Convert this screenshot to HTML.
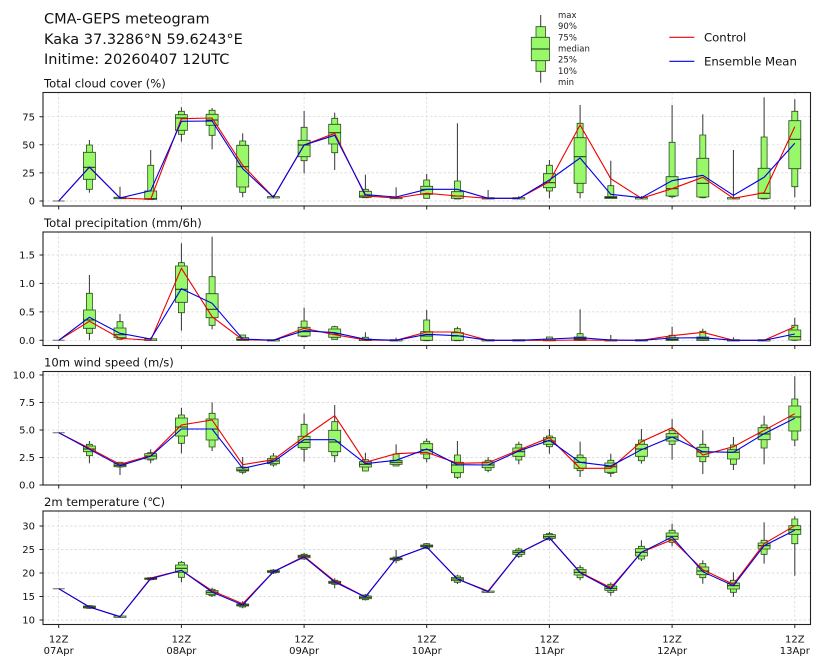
<!DOCTYPE html>
<html><head><meta charset="utf-8"><style>
html,body{margin:0;padding:0;background:#fff}
svg{display:block}
text{font-family:"DejaVu Sans","Liberation Sans",sans-serif;fill:#111}
.w{stroke:#333;stroke-width:1;fill:none}
.b{fill:#98f86a;stroke:#2e4a22;stroke-width:0.8}
.m{stroke:#1e2e14;stroke-width:1;fill:none}
.z{stroke:#888;stroke-width:1.3;fill:none}
.g{stroke:#d4d4d4;stroke-width:0.7;stroke-dasharray:2.5 2;fill:none}
.f{fill:none;stroke:#222;stroke-width:1.1}
.t{stroke:#222;stroke-width:1;fill:none}
.c{stroke:#f00000;stroke-width:1.1;fill:none}
.e{stroke:#0000e8;stroke-width:1.1;fill:none}
.yl{font-size:10px;text-anchor:end}
.xl{font-size:10px;text-anchor:middle}
.pt{font-size:11.6px}
.lg{font-size:8.5px;fill:#222}
</style></head><body>
<svg width="822" height="667" viewBox="0 0 822 667" xmlns="http://www.w3.org/2000/svg">
<rect width="822" height="667" fill="#fff"/>
<!-- Header -->
<text x="44" y="23.3" style="font-size:14.5px">CMA-GEPS meteogram</text>
<text x="44" y="43.8" style="font-size:14.5px">Kaka 37.3286°N 59.6243°E</text>
<text x="44" y="64.2" style="font-size:14.5px">Initime: 20260407 12UTC</text>
<!-- Box legend -->
<path class="w" d="M540.7 15 V82.7"/>
<path class="b" d="M536 26.7 V71.3 H545.5 V26.7Z"/>
<path class="b" d="M531.3 37.3 V60.7 H549.5 V37.3Z"/>
<path class="m" d="M531.3 49 H549.5"/>
<text class="lg" x="558" y="18">max</text>
<text class="lg" x="558" y="29.2">90%</text>
<text class="lg" x="558" y="40.3">75%</text>
<text class="lg" x="558" y="51.5">median</text>
<text class="lg" x="558" y="62.7">25%</text>
<text class="lg" x="558" y="73.8">10%</text>
<text class="lg" x="558" y="85">min</text>
<path class="c" d="M669.3 37.3 H694.3"/>
<text x="704" y="41.5" style="font-size:11.7px">Control</text>
<path class="e" d="M669.3 61.3 H694.3"/>
<text x="704" y="65.5" style="font-size:11.7px">Ensemble Mean</text>

<!-- ================= Panel 1 ================= -->
<text class="pt" x="44" y="87.3">Total cloud cover (%)</text>
<g>
<path class="g" d="M43 201 H810.5 M43 172.9 H810.5 M43 144.8 H810.5 M43 116.7 H810.5"/>
<path class="g" d="M58.7 92.5 V206 M181.4 92.5 V206 M304.1 92.5 V206 M426.7 92.5 V206 M549.4 92.5 V206 M672.1 92.5 V206 M794.8 92.5 V206"/>
<path class="t" d="M39.5 201 H43 M39.5 172.9 H43 M39.5 144.8 H43 M39.5 116.7 H43"/>
<path class="t" d="M58.7 206 v3.5 M181.4 206 v3.5 M304.1 206 v3.5 M426.7 206 v3.5 M549.4 206 v3.5 M672.1 206 v3.5 M794.8 206 v3.5"/>
<text class="yl" x="35" y="204.6">0</text>
<text class="yl" x="35" y="176.5">25</text>
<text class="yl" x="35" y="148.4">50</text>
<text class="yl" x="35" y="120.3">75</text>
</g>
<path class="z" d="M52.7 201 H64.7"/>
<g transform="translate(89.4)"><path class="w" d="M0 140 V192.7"/><path class="b" d="M-3 145 V189.3 H3 V145Z"/><path class="b" d="M-6 152.3 V179.3 H6 V152.3Z"/><path class="m" d="M-6 167.3 H6"/></g>
<g transform="translate(120)"><path class="w" d="M0 186.7 V198.5"/><path class="b" d="M-6 197.3 V198.7 H6 V197.3Z"/></g>
<g transform="translate(150.7)"><path class="w" d="M0 150 V199.5"/><path class="b" d="M-3 165.3 V199.5 H3 V165.3Z"/><path class="b" d="M-6 191 V199.3 H6 V191Z"/><path class="m" d="M-6 198.7 H6"/></g>
<g transform="translate(181.4)"><path class="w" d="M0 107.3 V141.7"/><path class="b" d="M-3 111.3 V134.3 H3 V111.3Z"/><path class="b" d="M-6 114.7 V130.3 H6 V114.7Z"/><path class="m" d="M-6 118 H6"/></g>
<g transform="translate(212.1)"><path class="w" d="M0 108 V149.3"/><path class="b" d="M-3 110.3 V135.3 H3 V110.3Z"/><path class="b" d="M-6 114.3 V125.3 H6 V114.3Z"/><path class="m" d="M-6 120 H6"/></g>
<g transform="translate(242.7)"><path class="w" d="M0 133.3 V197.3"/><path class="b" d="M-3 141 V192.3 H3 V141Z"/><path class="b" d="M-6 145.3 V187 H6 V145.3Z"/><path class="m" d="M-6 166.7 H6"/></g>
<g transform="translate(273.4)"><path class="w" d="M0 195 V198"/><path class="b" d="M-6 196.6 V198 H6 V196.6Z"/></g>
<g transform="translate(304.1)"><path class="w" d="M0 111 V173.3"/><path class="b" d="M-3 127.3 V160.7 H3 V127.3Z"/><path class="b" d="M-6 140.3 V156.7 H6 V140.3Z"/><path class="m" d="M-6 145 H6"/></g>
<g transform="translate(334.7)"><path class="w" d="M0 112.7 V170"/><path class="b" d="M-3 118.3 V152.7 H3 V118.3Z"/><path class="b" d="M-6 124.3 V144 H6 V124.3Z"/><path class="m" d="M-6 132.7 H6"/></g>
<g transform="translate(365.4)"><path class="w" d="M0 174.7 V198"/><path class="b" d="M-3 189.3 V197.7 H3 V189.3Z"/><path class="b" d="M-6 191.3 V197.3 H6 V191.3Z"/><path class="m" d="M-6 196 H6"/></g>
<g transform="translate(396.1)"><path class="w" d="M0 187.3 V198.5"/><path class="b" d="M-6 197.3 V198.7 H6 V197.3Z"/></g>
<g transform="translate(426.7)"><path class="w" d="M0 174 V198.5"/><path class="b" d="M-3 180 V198.3 H3 V180Z"/><path class="b" d="M-6 186.3 V194.3 H6 V186.3Z"/><path class="m" d="M-6 189.3 H6"/></g>
<g transform="translate(457.4)"><path class="w" d="M0 123.3 V199"/><path class="b" d="M-3 181 V199 H3 V181Z"/><path class="b" d="M-6 191.7 V198.3 H6 V191.7Z"/><path class="m" d="M-6 196 H6"/></g>
<g transform="translate(488.1)"><path class="w" d="M0 190 V198.5"/><path class="b" d="M-6 197.6 V199 H6 V197.6Z"/></g>
<g transform="translate(518.8)"><path class="w" d="M0 196 V198.5"/><path class="b" d="M-6 197.6 V199 H6 V197.6Z"/></g>
<g transform="translate(549.4)"><path class="w" d="M0 160 V198.3"/><path class="b" d="M-3 165.3 V191 H3 V165.3Z"/><path class="b" d="M-6 173.7 V187.7 H6 V173.7Z"/><path class="m" d="M-6 182.7 H6"/></g>
<g transform="translate(580.1)"><path class="w" d="M0 105 V198.3"/><path class="b" d="M-3 123.3 V192.7 H3 V123.3Z"/><path class="b" d="M-6 137.7 V183.3 H6 V137.7Z"/><path class="m" d="M-6 156.7 H6"/></g>
<g transform="translate(610.8)"><path class="w" d="M0 160.7 V198.5"/><path class="b" d="M-3 185.7 V196.7 H3 V185.7Z"/><path class="b" d="M-6 196.5 V198.5 H6 V196.5Z"/><path class="m" d="M-6 197.5 H6"/></g>
<g transform="translate(641.4)"><path class="w" d="M0 196 V198.5"/><path class="b" d="M-6 197.6 V199 H6 V197.6Z"/></g>
<g transform="translate(672.1)"><path class="w" d="M0 105 V198.3"/><path class="b" d="M-3 142.3 V196.7 H3 V142.3Z"/><path class="b" d="M-6 176.7 V196 H6 V176.7Z"/><path class="m" d="M-6 188.7 H6"/></g>
<g transform="translate(702.8)"><path class="w" d="M0 114.3 V198.3"/><path class="b" d="M-3 135 V197.7 H3 V135Z"/><path class="b" d="M-6 158.3 V197 H6 V158.3Z"/><path class="m" d="M-6 183.3 H6"/></g>
<g transform="translate(733.4)"><path class="w" d="M0 150 V198.5"/><path class="b" d="M-6 197.6 V199 H6 V197.6Z"/></g>
<g transform="translate(764.1)"><path class="w" d="M0 97.3 V199"/><path class="b" d="M-3 137 V199 H3 V137Z"/><path class="b" d="M-6 168.3 V198.3 H6 V168.3Z"/><path class="m" d="M-6 193.3 H6"/></g>
<g transform="translate(794.8)"><path class="w" d="M0 99.3 V197.3"/><path class="b" d="M-3 111.3 V186.7 H3 V111.3Z"/><path class="b" d="M-6 120.7 V168.7 H6 V120.7Z"/><path class="m" d="M-6 139.3 H6"/></g>
<polyline class="c" points="58.7,201 89.4,167.3 120,198 150.7,199.3 181.4,118.7 212.1,118 242.7,165.3 273.4,197.3 304.1,145 334.7,133.3 365.4,196 396.1,198 426.7,193.3 457.4,196 488.1,198.3 518.8,198.3 549.4,181.7 580.1,125 610.8,178.7 641.4,198.3 672.1,188.7 702.8,177.3 733.4,198.3 764.1,192.7 794.8,126.7"/>
<polyline class="e" points="58.7,201 89.4,167 120,198 150.7,190.7 181.4,121.3 212.1,121 242.7,168.7 273.4,197.3 304.1,145 334.7,135.3 365.4,194.7 396.1,197 426.7,189.3 457.4,189.3 488.1,198.3 518.8,198.3 549.4,180 580.1,158 610.8,194.3 641.4,197.7 672.1,180.7 702.8,175.3 733.4,195.3 764.1,177.3 794.8,143.3"/>
<rect class="f" x="43" y="92.5" width="767.5" height="113.5"/>

<!-- ================= Panel 2 ================= -->
<text class="pt" x="44" y="226.8">Total precipitation (mm/6h)</text>
<g>
<path class="g" d="M43 340.3 H810.5 M43 311.9 H810.5 M43 283.4 H810.5 M43 255 H810.5"/>
<path class="g" d="M58.7 232 V345.5 M181.4 232 V345.5 M304.1 232 V345.5 M426.7 232 V345.5 M549.4 232 V345.5 M672.1 232 V345.5 M794.8 232 V345.5"/>
<path class="t" d="M39.5 340.3 H43 M39.5 311.9 H43 M39.5 283.4 H43 M39.5 255 H43"/>
<path class="t" d="M58.7 345.5 v3.5 M181.4 345.5 v3.5 M304.1 345.5 v3.5 M426.7 345.5 v3.5 M549.4 345.5 v3.5 M672.1 345.5 v3.5 M794.8 345.5 v3.5"/>
<text class="yl" x="35" y="343.9">0.0</text>
<text class="yl" x="35" y="315.5">0.5</text>
<text class="yl" x="35" y="287">1.0</text>
<text class="yl" x="35" y="258.6">1.5</text>
</g>
<path class="z" d="M52.7 340.3 H64.7"/>
<g transform="translate(89.4)"><path class="w" d="M0 275 V340"/><path class="b" d="M-3 293.3 V333.3 H3 V293.3Z"/><path class="b" d="M-6 310 V328.3 H6 V310Z"/><path class="m" d="M-6 320 H6"/></g>
<g transform="translate(120)"><path class="w" d="M0 314 V339.3"/><path class="b" d="M-3 321.7 V339.3 H3 V321.7Z"/><path class="b" d="M-6 328 V337.7 H6 V328Z"/><path class="m" d="M-6 334.7 H6"/></g>
<g transform="translate(150.7)"><path class="w" d="M0 337.5 V340.5"/><path class="b" d="M-6 338.8 V340.5 H6 V338.8Z"/></g>
<g transform="translate(181.4)"><path class="w" d="M0 243.3 V330.7"/><path class="b" d="M-3 262.7 V312.7 H3 V262.7Z"/><path class="b" d="M-6 266 V302.3 H6 V266Z"/><path class="m" d="M-6 289.3 H6"/></g>
<g transform="translate(212.1)"><path class="w" d="M0 236.7 V329.3"/><path class="b" d="M-3 276.7 V325.3 H3 V276.7Z"/><path class="b" d="M-6 293.7 V317.7 H6 V293.7Z"/><path class="m" d="M-6 309.3 H6"/></g>
<g transform="translate(242.7)"><path class="w" d="M0 335 V340.3"/><path class="b" d="M-3 335 V340.3 H3 V335Z"/><path class="b" d="M-6 337.7 V340.5 H6 V337.7Z"/><path class="m" d="M-6 339.5 H6"/></g>
<g transform="translate(273.4)"><path class="b" d="M-6 339.6 V341 H6 V339.6Z"/></g>
<g transform="translate(304.1)"><path class="w" d="M0 307.7 V336.7"/><path class="b" d="M-3 321 V336.7 H3 V321Z"/><path class="b" d="M-6 327.3 V336 H6 V327.3Z"/><path class="m" d="M-6 331.7 H6"/></g>
<g transform="translate(334.7)"><path class="w" d="M0 325.7 V339.3"/><path class="b" d="M-3 326.7 V339.3 H3 V326.7Z"/><path class="b" d="M-6 329 V337.3 H6 V329Z"/><path class="m" d="M-6 334 H6"/></g>
<g transform="translate(365.4)"><path class="w" d="M0 332.3 V340.3"/><path class="b" d="M-3 337.3 V340.3 H3 V337.3Z"/><path class="b" d="M-6 339 V340.6 H6 V339Z"/></g>
<g transform="translate(396.1)"><path class="w" d="M0 337.7 V340.3"/><path class="b" d="M-6 339.6 V341 H6 V339.6Z"/></g>
<g transform="translate(426.7)"><path class="w" d="M0 310 V340.7"/><path class="b" d="M-3 320 V340.7 H3 V320Z"/><path class="b" d="M-6 331.7 V340.3 H6 V331.7Z"/><path class="m" d="M-6 336 H6"/></g>
<g transform="translate(457.4)"><path class="w" d="M0 326.7 V340.7"/><path class="b" d="M-3 328.7 V340.7 H3 V328.7Z"/><path class="b" d="M-6 332.7 V340.3 H6 V332.7Z"/><path class="m" d="M-6 336 H6"/></g>
<g transform="translate(488.1)"><path class="b" d="M-6 339.6 V341 H6 V339.6Z"/></g>
<g transform="translate(518.8)"><path class="b" d="M-6 339.6 V341 H6 V339.6Z"/></g>
<g transform="translate(549.4)"><path class="w" d="M0 337 V340.3"/><path class="b" d="M-3 337 V340.3 H3 V337Z"/><path class="b" d="M-6 339.2 V340.8 H6 V339.2Z"/></g>
<g transform="translate(580.1)"><path class="w" d="M0 309.3 V340.3"/><path class="b" d="M-3 333.7 V340.3 H3 V333.7Z"/><path class="b" d="M-6 337 V340.5 H6 V337Z"/><path class="m" d="M-6 339 H6"/></g>
<g transform="translate(610.8)"><path class="w" d="M0 335 V340.3"/><path class="b" d="M-6 339.6 V341 H6 V339.6Z"/></g>
<g transform="translate(641.4)"><path class="b" d="M-6 339.6 V341 H6 V339.6Z"/></g>
<g transform="translate(672.1)"><path class="w" d="M0 326.7 V340.3"/><path class="b" d="M-3 335.3 V340.3 H3 V335.3Z"/><path class="b" d="M-6 337.7 V340.5 H6 V337.7Z"/><path class="m" d="M-6 339.5 H6"/></g>
<g transform="translate(702.8)"><path class="w" d="M0 328.7 V340.3"/><path class="b" d="M-3 331.3 V340.3 H3 V331.3Z"/><path class="b" d="M-6 337 V340.5 H6 V337Z"/><path class="m" d="M-6 339 H6"/></g>
<g transform="translate(733.4)"><path class="w" d="M0 337.3 V340.3"/><path class="b" d="M-6 339.6 V341 H6 V339.6Z"/></g>
<g transform="translate(764.1)"><path class="b" d="M-6 339.6 V341 H6 V339.6Z"/></g>
<g transform="translate(794.8)"><path class="w" d="M0 317.7 V340.7"/><path class="b" d="M-3 325.3 V340.3 H3 V325.3Z"/><path class="b" d="M-6 330 V340 H6 V330Z"/><path class="m" d="M-6 336.7 H6"/></g>
<polyline class="c" points="58.7,340.3 89.4,321.3 120,338.3 150.7,340.3 181.4,268.3 212.1,316.7 242.7,339.7 273.4,340.3 304.1,328.3 334.7,334.7 365.4,340 396.1,340.3 426.7,332 457.4,332 488.1,340.3 518.8,340.3 549.4,340.3 580.1,340 610.8,340.3 641.4,340.3 672.1,335.7 702.8,332.3 733.4,340.3 764.1,340.3 794.8,326.7"/>
<polyline class="e" points="58.7,340.3 89.4,317.3 120,333.3 150.7,339 181.4,288.7 212.1,303.3 242.7,339 273.4,340.3 304.1,330.7 334.7,332.7 365.4,339.3 396.1,340.3 426.7,334.3 457.4,335.7 488.1,340.3 518.8,340.3 549.4,339 580.1,337.7 610.8,340 641.4,340.3 672.1,338 702.8,337.7 733.4,340.3 764.1,340.3 794.8,334"/>
<rect class="f" x="43" y="232" width="767.5" height="113.5"/>

<!-- ================= Panel 3 ================= -->
<text class="pt" x="44" y="366.3">10m wind speed (m/s)</text>
<g>
<path class="g" d="M43 457.5 H810.5 M43 430 H810.5 M43 402.5 H810.5 M43 375 H810.5"/>
<path class="g" d="M58.7 371.5 V485 M181.4 371.5 V485 M304.1 371.5 V485 M426.7 371.5 V485 M549.4 371.5 V485 M672.1 371.5 V485 M794.8 371.5 V485"/>
<path class="t" d="M39.5 485 H43 M39.5 457.5 H43 M39.5 430 H43 M39.5 402.5 H43 M39.5 375 H43"/>
<path class="t" d="M58.7 485 v3.5 M181.4 485 v3.5 M304.1 485 v3.5 M426.7 485 v3.5 M549.4 485 v3.5 M672.1 485 v3.5 M794.8 485 v3.5"/>
<text class="yl" x="35" y="488.6">0.0</text>
<text class="yl" x="35" y="461.1">2.5</text>
<text class="yl" x="35" y="433.6">5.0</text>
<text class="yl" x="35" y="406.1">7.5</text>
<text class="yl" x="35" y="378.6">10.0</text>
</g>
<path class="z" d="M52.7 432.7 H64.7"/>
<g transform="translate(89.4)"><path class="w" d="M0 441 V463.3"/><path class="b" d="M-3 444.3 V455.7 H3 V444.3Z"/><path class="b" d="M-6 446 V451.7 H6 V446Z"/><path class="m" d="M-6 449 H6"/></g>
<g transform="translate(120)"><path class="w" d="M0 461.7 V475"/><path class="b" d="M-3 462.3 V467 H3 V462.3Z"/><path class="b" d="M-6 463.7 V466.7 H6 V463.7Z"/><path class="m" d="M-6 465.3 H6"/></g>
<g transform="translate(150.7)"><path class="w" d="M0 449.3 V463.3"/><path class="b" d="M-3 452.7 V460 H3 V452.7Z"/><path class="b" d="M-6 453.7 V459 H6 V453.7Z"/><path class="m" d="M-6 456 H6"/></g>
<g transform="translate(181.4)"><path class="w" d="M0 407.7 V453.3"/><path class="b" d="M-3 415 V443.3 H3 V415Z"/><path class="b" d="M-6 418 V436 H6 V418Z"/><path class="m" d="M-6 427 H6"/></g>
<g transform="translate(212.1)"><path class="w" d="M0 402.3 V451"/><path class="b" d="M-3 413.3 V447 H3 V413.3Z"/><path class="b" d="M-6 419 V440 H6 V419Z"/><path class="m" d="M-6 429 H6"/></g>
<g transform="translate(242.7)"><path class="w" d="M0 457 V474.3"/><path class="b" d="M-3 467 V472.3 H3 V467Z"/><path class="b" d="M-6 467.7 V471 H6 V467.7Z"/><path class="m" d="M-6 470 H6"/></g>
<g transform="translate(273.4)"><path class="w" d="M0 453 V466.7"/><path class="b" d="M-3 456 V465 H3 V456Z"/><path class="b" d="M-6 458.7 V463.7 H6 V458.7Z"/><path class="m" d="M-6 461 H6"/></g>
<g transform="translate(304.1)"><path class="w" d="M0 413.7 V461.7"/><path class="b" d="M-3 424.3 V449.3 H3 V424.3Z"/><path class="b" d="M-6 436.3 V447.7 H6 V436.3Z"/><path class="m" d="M-6 442.3 H6"/></g>
<g transform="translate(334.7)"><path class="w" d="M0 405 V462.3"/><path class="b" d="M-3 421.7 V455.7 H3 V421.7Z"/><path class="b" d="M-6 430.3 V451.7 H6 V430.3Z"/><path class="m" d="M-6 442 H6"/></g>
<g transform="translate(365.4)"><path class="w" d="M0 452.7 V471.5"/><path class="b" d="M-3 459.7 V471 H3 V459.7Z"/><path class="b" d="M-6 461.7 V467 H6 V461.7Z"/><path class="m" d="M-6 464.3 H6"/></g>
<g transform="translate(396.1)"><path class="w" d="M0 444.3 V466.3"/><path class="b" d="M-3 454 V466 H3 V454Z"/><path class="b" d="M-6 460.3 V464.3 H6 V460.3Z"/><path class="m" d="M-6 462.3 H6"/></g>
<g transform="translate(426.7)"><path class="w" d="M0 438.3 V462.3"/><path class="b" d="M-3 441.3 V458.7 H3 V441.3Z"/><path class="b" d="M-6 443.7 V454 H6 V443.7Z"/><path class="m" d="M-6 449.7 H6"/></g>
<g transform="translate(457.4)"><path class="w" d="M0 441 V479"/><path class="b" d="M-3 455 V477.3 H3 V455Z"/><path class="b" d="M-6 462.3 V472.7 H6 V462.3Z"/><path class="m" d="M-6 465 H6"/></g>
<g transform="translate(488.1)"><path class="w" d="M0 457 V472.3"/><path class="b" d="M-3 460.3 V470.3 H3 V460.3Z"/><path class="b" d="M-6 462 V467.7 H6 V462Z"/><path class="m" d="M-6 465 H6"/></g>
<g transform="translate(518.8)"><path class="w" d="M0 441.7 V464.3"/><path class="b" d="M-3 444.3 V460 H3 V444.3Z"/><path class="b" d="M-6 448 V456.3 H6 V448Z"/><path class="m" d="M-6 451.7 H6"/></g>
<g transform="translate(549.4)"><path class="w" d="M0 429 V453.7"/><path class="b" d="M-3 436 V446.7 H3 V436Z"/><path class="b" d="M-6 437.7 V444.3 H6 V437.7Z"/><path class="m" d="M-6 441 H6"/></g>
<g transform="translate(580.1)"><path class="w" d="M0 441.7 V477"/><path class="b" d="M-3 455 V470.7 H3 V455Z"/><path class="b" d="M-6 457.7 V468.3 H6 V457.7Z"/><path class="m" d="M-6 462.3 H6"/></g>
<g transform="translate(610.8)"><path class="w" d="M0 453.7 V477"/><path class="b" d="M-3 460.3 V473.3 H3 V460.3Z"/><path class="b" d="M-6 463 V472.3 H6 V463Z"/><path class="m" d="M-6 466.7 H6"/></g>
<g transform="translate(641.4)"><path class="w" d="M0 429 V463.7"/><path class="b" d="M-3 440 V460.7 H3 V440Z"/><path class="b" d="M-6 444.3 V456.3 H6 V444.3Z"/><path class="m" d="M-6 449 H6"/></g>
<g transform="translate(672.1)"><path class="w" d="M0 419 V459.7"/><path class="b" d="M-3 430.3 V444.3 H3 V430.3Z"/><path class="b" d="M-6 433.7 V441 H6 V433.7Z"/><path class="m" d="M-6 437 H6"/></g>
<g transform="translate(702.8)"><path class="w" d="M0 430.3 V474"/><path class="b" d="M-3 444.3 V461.7 H3 V444.3Z"/><path class="b" d="M-6 447.3 V456.7 H6 V447.3Z"/><path class="m" d="M-6 452 H6"/></g>
<g transform="translate(733.4)"><path class="w" d="M0 437 V470"/><path class="b" d="M-3 445 V464.3 H3 V445Z"/><path class="b" d="M-6 449.7 V459 H6 V449.7Z"/><path class="m" d="M-6 452.3 H6"/></g>
<g transform="translate(764.1)"><path class="w" d="M0 415.7 V464.3"/><path class="b" d="M-3 425 V448 H3 V425Z"/><path class="b" d="M-6 427.7 V439.7 H6 V427.7Z"/><path class="m" d="M-6 434 H6"/></g>
<g transform="translate(794.8)"><path class="w" d="M0 376.3 V446.3"/><path class="b" d="M-3 399 V440 H3 V399Z"/><path class="b" d="M-6 406 V431 H6 V406Z"/><path class="m" d="M-6 417 H6"/></g>
<polyline class="c" points="58.7,432.7 89.4,448.3 120,464.3 150.7,455.7 181.4,425 212.1,420 242.7,464.7 273.4,459.7 304.1,437 334.7,415.7 365.4,462.3 396.1,453.7 426.7,452.3 457.4,463.3 488.1,462.7 518.8,450 549.4,437.7 580.1,468.3 610.8,468.3 641.4,441.7 672.1,427.7 702.8,455 733.4,446.7 764.1,430.3 794.8,413.7"/>
<polyline class="e" points="58.7,432.7 89.4,449.3 120,465.7 150.7,456.3 181.4,429 212.1,429 242.7,468.3 273.4,461.7 304.1,439.7 334.7,439.7 365.4,463.7 396.1,460.3 426.7,449 457.4,464.7 488.1,465 518.8,451 549.4,440.3 580.1,462.3 610.8,466 641.4,449.7 672.1,437 702.8,451.7 733.4,452.3 764.1,433.7 794.8,418.3"/>
<rect class="f" x="43" y="371.5" width="767.5" height="113.5"/>

<!-- ================= Panel 4 ================= -->
<text class="pt" x="44" y="505.8">2m temperature (℃)</text>
<g>
<path class="g" d="M43 620 H810.5 M43 596.5 H810.5 M43 573 H810.5 M43 549.5 H810.5 M43 526 H810.5"/>
<path class="g" d="M58.7 511 V624.5 M181.4 511 V624.5 M304.1 511 V624.5 M426.7 511 V624.5 M549.4 511 V624.5 M672.1 511 V624.5 M794.8 511 V624.5"/>
<path class="t" d="M39.5 620 H43 M39.5 596.5 H43 M39.5 573 H43 M39.5 549.5 H43 M39.5 526 H43"/>
<path class="t" d="M58.7 624.5 v3.5 M181.4 624.5 v3.5 M304.1 624.5 v3.5 M426.7 624.5 v3.5 M549.4 624.5 v3.5 M672.1 624.5 v3.5 M794.8 624.5 v3.5"/>
<text class="yl" x="35" y="623.6">10</text>
<text class="yl" x="35" y="600.1">15</text>
<text class="yl" x="35" y="576.6">20</text>
<text class="yl" x="35" y="553.1">25</text>
<text class="yl" x="35" y="529.6">30</text>
<text class="xl" x="58.7" y="642.6">12Z</text><text class="xl" x="58.7" y="654.2">07Apr</text>
<text class="xl" x="181.4" y="642.6">12Z</text><text class="xl" x="181.4" y="654.2">08Apr</text>
<text class="xl" x="304.1" y="642.6">12Z</text><text class="xl" x="304.1" y="654.2">09Apr</text>
<text class="xl" x="426.7" y="642.6">12Z</text><text class="xl" x="426.7" y="654.2">10Apr</text>
<text class="xl" x="549.4" y="642.6">12Z</text><text class="xl" x="549.4" y="654.2">11Apr</text>
<text class="xl" x="672.1" y="642.6">12Z</text><text class="xl" x="672.1" y="654.2">12Apr</text>
<text class="xl" x="794.8" y="642.6">12Z</text><text class="xl" x="794.8" y="654.2">13Apr</text>
</g>
<path class="z" d="M52.7 588.7 H64.7"/>
<g transform="translate(89.4)"><path class="w" d="M0 605 V609"/><path class="b" d="M-3 605.7 V608.3 H3 V605.7Z"/><path class="b" d="M-6 606 V608 H6 V606Z"/><path class="m" d="M-6 607 H6"/></g>
<g transform="translate(120)"><path class="w" d="M0 615.5 V617.8"/><path class="b" d="M-6 616 V617.4 H6 V616Z"/></g>
<g transform="translate(150.7)"><path class="w" d="M0 577 V580.3"/><path class="b" d="M-3 577.7 V579.7 H3 V577.7Z"/><path class="b" d="M-6 578 V579.4 H6 V578Z"/><path class="m" d="M-6 578.7 H6"/></g>
<g transform="translate(181.4)"><path class="w" d="M0 561 V582.3"/><path class="b" d="M-3 562.3 V577.3 H3 V562.3Z"/><path class="b" d="M-6 565 V572.3 H6 V565Z"/><path class="m" d="M-6 568.3 H6"/></g>
<g transform="translate(212.1)"><path class="w" d="M0 587.7 V597"/><path class="b" d="M-3 589.3 V595.7 H3 V589.3Z"/><path class="b" d="M-6 590.7 V594.3 H6 V590.7Z"/><path class="m" d="M-6 592.3 H6"/></g>
<g transform="translate(242.7)"><path class="w" d="M0 601 V608.3"/><path class="b" d="M-3 603 V607 H3 V603Z"/><path class="b" d="M-6 604 V606 H6 V604Z"/><path class="m" d="M-6 605 H6"/></g>
<g transform="translate(273.4)"><path class="w" d="M0 569 V574"/><path class="b" d="M-3 570 V573 H3 V570Z"/><path class="b" d="M-6 570.7 V572.3 H6 V570.7Z"/><path class="m" d="M-6 571.7 H6"/></g>
<g transform="translate(304.1)"><path class="w" d="M0 553 V560"/><path class="b" d="M-3 554.3 V559 H3 V554.3Z"/><path class="b" d="M-6 555.3 V557.7 H6 V555.3Z"/><path class="m" d="M-6 556.3 H6"/></g>
<g transform="translate(334.7)"><path class="w" d="M0 578.3 V588.3"/><path class="b" d="M-3 580.3 V584.3 H3 V580.3Z"/><path class="b" d="M-6 581.3 V583.3 H6 V581.3Z"/><path class="m" d="M-6 582.3 H6"/></g>
<g transform="translate(365.4)"><path class="w" d="M0 594 V600.5"/><path class="b" d="M-3 595 V599.7 H3 V595Z"/><path class="b" d="M-6 596 V598.7 H6 V596Z"/><path class="m" d="M-6 597.3 H6"/></g>
<g transform="translate(396.1)"><path class="w" d="M0 550 V563.3"/><path class="b" d="M-3 557 V560.7 H3 V557Z"/><path class="b" d="M-6 558 V559.7 H6 V558Z"/><path class="m" d="M-6 558.7 H6"/></g>
<g transform="translate(426.7)"><path class="w" d="M0 543 V549"/><path class="b" d="M-3 543.7 V548.3 H3 V543.7Z"/><path class="b" d="M-6 545 V547 H6 V545Z"/><path class="m" d="M-6 546 H6"/></g>
<g transform="translate(457.4)"><path class="w" d="M0 574.7 V584"/><path class="b" d="M-3 576 V582.3 H3 V576Z"/><path class="b" d="M-6 577.5 V580.7 H6 V577.5Z"/><path class="m" d="M-6 579 H6"/></g>
<g transform="translate(488.1)"><path class="w" d="M0 590.5 V592.8"/><path class="b" d="M-6 591 V592.4 H6 V591Z"/></g>
<g transform="translate(518.8)"><path class="w" d="M0 547.7 V558"/><path class="b" d="M-3 549 V556.3 H3 V549Z"/><path class="b" d="M-6 550.7 V554.3 H6 V550.7Z"/><path class="m" d="M-6 552.3 H6"/></g>
<g transform="translate(549.4)"><path class="w" d="M0 532 V541"/><path class="b" d="M-3 533.7 V539.7 H3 V533.7Z"/><path class="b" d="M-6 534.7 V538.3 H6 V534.7Z"/><path class="m" d="M-6 536.7 H6"/></g>
<g transform="translate(580.1)"><path class="w" d="M0 565 V580.3"/><path class="b" d="M-3 567.7 V577.7 H3 V567.7Z"/><path class="b" d="M-6 569.7 V575 H6 V569.7Z"/><path class="m" d="M-6 572.3 H6"/></g>
<g transform="translate(610.8)"><path class="w" d="M0 582.3 V595.7"/><path class="b" d="M-3 584.3 V592.3 H3 V584.3Z"/><path class="b" d="M-6 586 V590.3 H6 V586Z"/><path class="m" d="M-6 588.3 H6"/></g>
<g transform="translate(641.4)"><path class="w" d="M0 540.3 V561"/><path class="b" d="M-3 546.3 V559 H3 V546.3Z"/><path class="b" d="M-6 548.7 V556 H6 V548.7Z"/><path class="m" d="M-6 552.3 H6"/></g>
<g transform="translate(672.1)"><path class="w" d="M0 523.7 V546.3"/><path class="b" d="M-3 530.3 V542.3 H3 V530.3Z"/><path class="b" d="M-6 533 V539.3 H6 V533Z"/><path class="m" d="M-6 536.3 H6"/></g>
<g transform="translate(702.8)"><path class="w" d="M0 560.3 V583.7"/><path class="b" d="M-3 563.7 V577.7 H3 V563.7Z"/><path class="b" d="M-6 567 V574.7 H6 V567Z"/><path class="m" d="M-6 571 H6"/></g>
<g transform="translate(733.4)"><path class="w" d="M0 572.3 V597"/><path class="b" d="M-3 580.3 V592.3 H3 V580.3Z"/><path class="b" d="M-6 583 V589 H6 V583Z"/><path class="m" d="M-6 585.7 H6"/></g>
<g transform="translate(764.1)"><path class="w" d="M0 522.3 V563.7"/><path class="b" d="M-3 540.3 V554.3 H3 V540.3Z"/><path class="b" d="M-6 543 V549 H6 V543Z"/><path class="m" d="M-6 545.7 H6"/></g>
<g transform="translate(794.8)"><path class="w" d="M0 516.3 V575.7"/><path class="b" d="M-3 519 V543.7 H3 V519Z"/><path class="b" d="M-6 525.7 V534.3 H6 V525.7Z"/><path class="m" d="M-6 529.7 H6"/></g>
<polyline class="c" points="58.7,588.7 89.4,607 120,616.7 150.7,578 181.4,570.3 212.1,590.7 242.7,603.7 273.4,571.7 304.1,556.3 334.7,581 365.4,597 396.1,558.3 426.7,547 457.4,579 488.1,591 518.8,553 549.4,537.7 580.1,572.3 610.8,587.7 641.4,552.3 672.1,539.7 702.8,569.7 733.4,584.3 764.1,543.7 794.8,525.7"/>
<polyline class="e" points="58.7,588.7 89.4,607 120,616.7 150.7,578.7 181.4,570.3 212.1,592 242.7,605 273.4,571.7 304.1,557 334.7,582 365.4,597 396.1,558.3 426.7,547 457.4,579 488.1,591.7 518.8,553 549.4,537.7 580.1,572.7 610.8,589 641.4,552.3 672.1,537 702.8,571.7 733.4,585.7 764.1,545.7 794.8,530.3"/>
<rect class="f" x="43" y="511" width="767.5" height="113.5"/>
</svg>
</body></html>
